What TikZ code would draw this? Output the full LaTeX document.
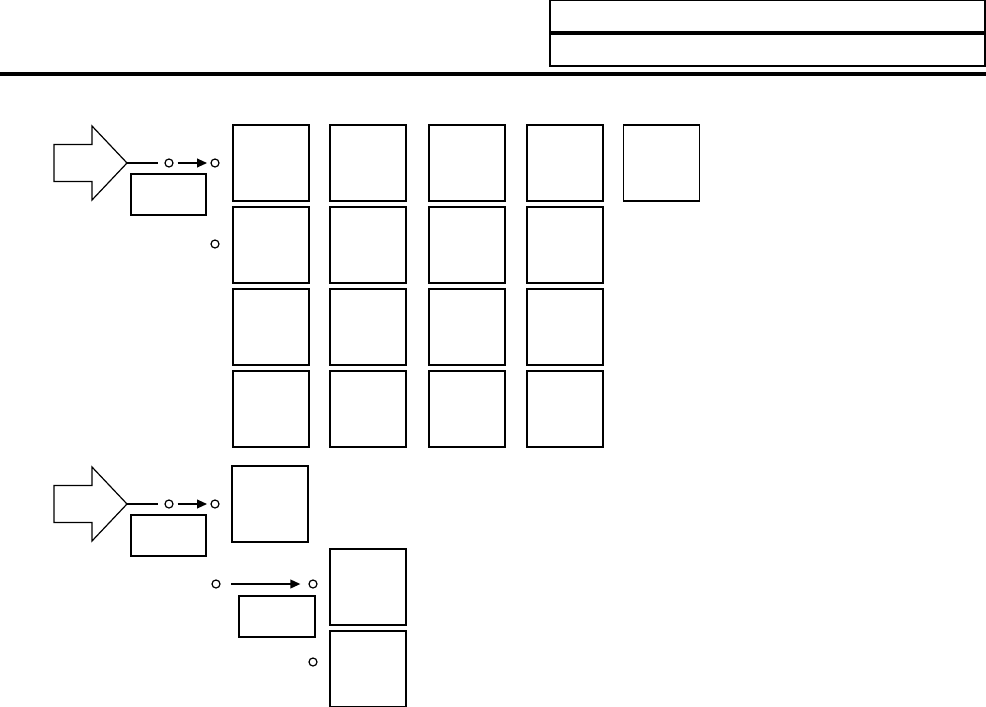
\documentclass[tikz,border=0pt]{standalone}
\usepackage{tikz}
\usetikzlibrary{arrows.meta,positioning,calc}
\definecolor{inkline}{HTML}{000000}
\tikzset{
  cellbox/.style={draw=inkline,line width=1.5pt,minimum width=57pt,minimum height=57pt,inner sep=0pt},
  tagbox/.style={draw=inkline,line width=1pt,minimum width=56.25pt,minimum height=30.75pt,inner sep=0pt},
  headrow/.style={draw=inkline,line width=1.4pt,minimum width=326.25pt,minimum height=24pt,inner sep=0pt},
  pin/.style={circle,draw=inkline,line width=0.9pt,minimum size=6pt,inner sep=0pt},
  wire/.style={line width=1.3pt,inkline},
  sig/.style={-{Triangle[length=7.5pt,width=6.5pt]},line width=1.3pt,inkline},
  bigarrow/.style={draw=inkline,line width=0.9pt,line join=miter}
}

\begin{document}
\begin{tikzpicture}[x=0.75pt,y=-0.75pt]
\useasboundingbox (0,0) rectangle (986,707);

% header
\node[headrow] (hdrA) at (767.5,16) {};
\node[headrow,below=0pt of hdrA] (hdrB) {};
\draw[line width=2.4pt] (0,74) -- (986,74);

% first group
\draw[bigarrow] (54,144.5) -- (92,144.5) -- (92,126) -- (127,163) -- (92,200) -- (92,181.5) -- (54,181.5) -- cycle;
\coordinate (tipA) at (127,163);
\node[pin] (pA1) at (169,163) {};
\node[pin] (pA2) at (215,163) {};
\node[pin] (pA3) at (215,244) {};
\node[tagbox] (tagA) at (168.5,194.5) {};
\draw[wire,shorten >=5pt] (tipA) -- (pA1);
\draw[sig,shorten <=3pt,shorten >=2.5pt] (pA1) -- (pA2);

\foreach \r/\y in {1/163,2/244.5,3/326.5,4/408.5}{
  \foreach \c/\x in {1/270.5,2/368,3/466.5,4/565}{
    \node[cellbox] (cell\r\c) at (\x,\y) {};
  }
}
\node[cellbox,line width=1.2pt] (cell15) at (661.5,163) {};

% second group
\draw[bigarrow] (54,485.5) -- (92,485.5) -- (92,467) -- (127,504) -- (92,541) -- (92,522.5) -- (54,522.5) -- cycle;
\coordinate (tipB) at (127,504);
\node[pin] (pB1) at (169,504) {};
\node[pin] (pB2) at (215,504) {};
\node[tagbox] (tagB) at (168.5,535.5) {};
\draw[wire,shorten >=5pt] (tipB) -- (pB1);
\draw[sig,shorten <=3pt,shorten >=2.5pt] (pB1) -- (pB2);
\node[cellbox] (cellB) at (270,503.5) {};

\node[pin] (pC1) at (216,584) {};
\node[pin] (pC2) at (313,584) {};
\node[pin] (pC3) at (313,662) {};
\node[tagbox,minimum width=57pt] (tagC) at (277,616.5) {};
\draw[sig,shorten <=8pt,shorten >=6pt] (pC1) -- (pC2);
\node[cellbox] (cellC1) at (368,586.5) {};
\node[cellbox] (cellC2) at (368,668.5) {};
\end{tikzpicture}
\end{document}
